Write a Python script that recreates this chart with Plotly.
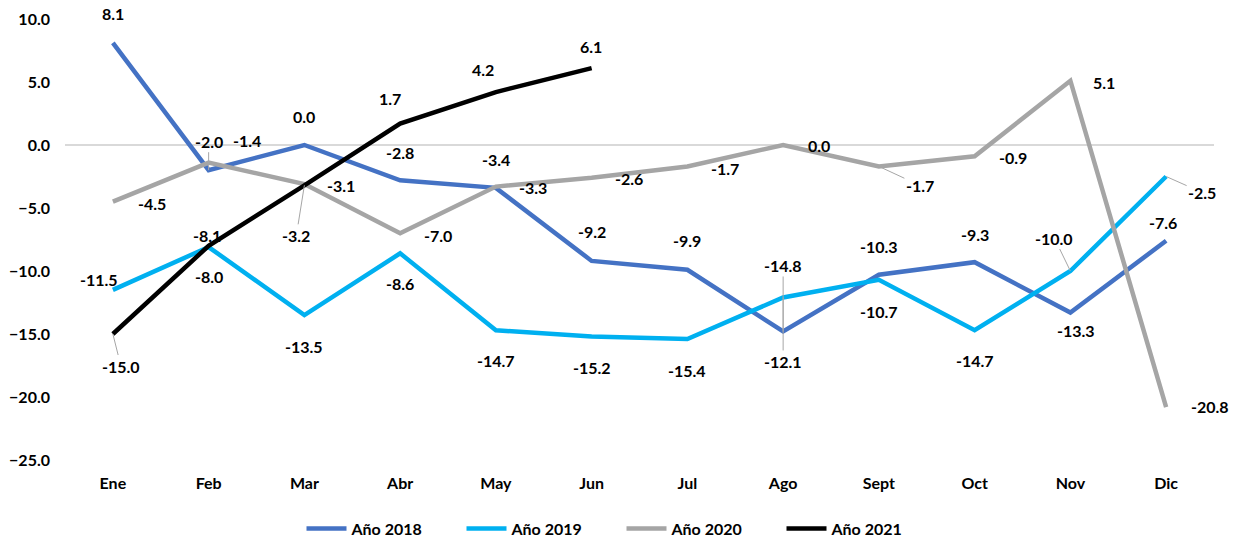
import plotly.graph_objects as go

meses = ['Ene', 'Feb', 'Mar', 'Abr', 'May', 'Jun', 'Jul', 'Ago', 'Sept', 'Oct', 'Nov', 'Dic']

anio_2018 = [8.1, -2.0, 0.0, -2.8, -3.4, -9.2, -9.9, -14.8, -10.3, -9.3, -13.3, -7.6]
anio_2019 = [-11.5, -8.1, -13.5, -8.6, -14.7, -15.2, -15.4, -12.1, -10.7, -14.7, -10.0, -2.5]
anio_2020 = [-4.5, -1.4, -3.1, -7.0, -3.3, -2.6, -1.7, 0.0, -1.7, -0.9, 5.1, -20.8]
anio_2021 = [-15.0, -8.0, -3.2, 1.7, 4.2, 6.1]

series = [
    ('Año 2018', anio_2018, '#4472C4'),
    ('Año 2019', anio_2019, '#00B0F0'),
    ('Año 2020', anio_2020, '#A5A5A5'),
    ('Año 2021', anio_2021, '#000000'),
]

# label placement in screen pixels (dx right, dy down); third value 1 = leader line
label_pos = {
    'Año 2018': [(0, -29, 0), (0, -29, 1), (0, -29, 0), (0, -28, 0), (0, -28, 0), (0, -29, 0),
                 (0, -29, 0), (0, -66, 1), (0, -28, 0), (0, -28, 0), (6, 18, 0), (-3, -18, 0)],
    'Año 2019': [(-14, -10, 0), (-2, -12, 0), (0, 31, 0), (0, 30, 0), (0, 30, 0), (0, 31, 0),
                 (0, 31, 0), (0, 64, 1), (0, 32, 0), (0, 30, 0), (-16, -33, 1), (36, 16, 1)],
    'Año 2020': [(39, 2, 0), (38, -22, 0), (37, 1, 0), (38, 2, 0), (37, 1, 0), (37, 1, 0),
                 (38, 2, 0), (36, 0, 0), (41, 19, 1), (38, 1, 0), (34, 2, 0), (44, -1, 0)],
    'Año 2021': [(8, 32, 1), (0, 31, 0), (-8, 50, 1), (-10, -25, 0), (-13, -23, 0), (-1, -22, 0)],
}

font_main = dict(family='Lato, Carlito, Arial', size=16, color='#000000', weight='bold')

fig = go.Figure()
for name, vals, color in series:
    fig.add_trace(go.Scatter(
        x=meses[:len(vals)], y=vals, name=name, mode='lines',
        line=dict(color=color, width=4.5),
    ))

annotations = []
for name, vals, color in series:
    for mes, v, (dx, dy, lead) in zip(meses, vals, label_pos[name]):
        txt = f'{v:.1f}'
        if lead:
            annotations.append(dict(
                x=mes, y=v, xref='x', yref='y', text=txt, showarrow=True,
                arrowhead=0, arrowwidth=1, arrowcolor='#A6A6A6', ax=dx, ay=dy,
                font=font_main, standoff=0,
            ))
        else:
            annotations.append(dict(
                x=mes, y=v, xref='x', yref='y', text=txt, showarrow=False,
                xshift=dx, yshift=-dy, font=font_main,
            ))

fig.update_layout(
    width=1243, height=540,
    plot_bgcolor='white', paper_bgcolor='white',
    margin=dict(l=65, r=29, t=19, b=80, autoexpand=False),
    font=font_main,
    showlegend=True,
    legend=dict(orientation='h', x=0.5, xref='container', xanchor='center',
                y=0.021, yref='container', yanchor='middle',
                font=font_main, itemwidth=40, tracegroupgap=0,
                entrywidth=105, entrywidthmode='pixels'),
    annotations=annotations,
    xaxis=dict(type='category', showgrid=False, showline=False, ticks='',
               tickfont=font_main, range=[-0.5, 11.5], ticklabelstandoff=12),
    yaxis=dict(range=[-25, 10], dtick=5, tickformat='.1f', showgrid=False,
               zeroline=True, zerolinecolor='#D9D9D9', zerolinewidth=1.5,
               showline=False, ticks='', tickfont=font_main, ticklabelstandoff=14),
)

fig.write_html('out.html', config={'displayModeBar': False},
               post_script="document.body.style.margin='0';")
